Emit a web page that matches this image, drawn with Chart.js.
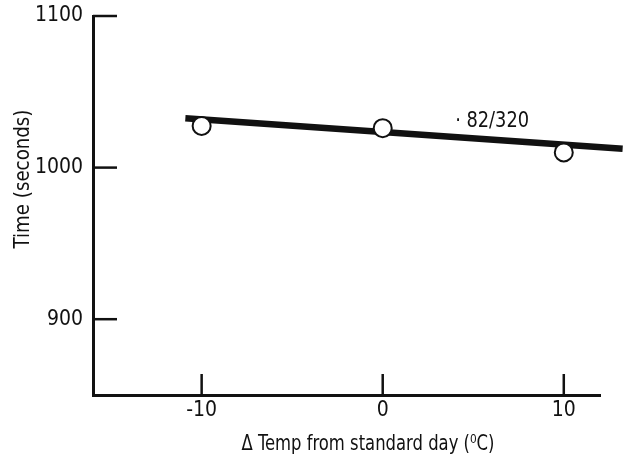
<!DOCTYPE html>
<html>
<head>
<meta charset="utf-8">
<script src="https://cdn.jsdelivr.net/npm/chart.js@4"></script>
<style>
  html, body { margin: 0; padding: 0; background: #fff; }
  canvas { display: block; }
</style>
</head>
<body>
<canvas id="chart" width="623" height="462"></canvas>
<script>
// Measured points
const temps = [-10, 0, 10];
const times = [1027.5, 1026, 1010];

// Fitted line ends (runs off the right edge of the figure)
const fitTemps = [-10.9, 13.25];
const fitTimes = [1032.5, 1012.5];

// Axis ticks
const xTicks = [-10, 0, 10];
const yTicks = [900, 1000, 1100];

// Curve label
const noteText = "\u00b7 82/320";
const noteAt = [4.0, 1030.5];

const FONT = "'DejaVu Sans Condensed', 'Liberation Sans', sans-serif";
const INK = "#111";

// draw text squeezed sideways, the original uses a condensed face
function narrowText(ctx, txt, x, y, sx, align) {
  ctx.save();
  ctx.translate(x, y);
  ctx.scale(sx, 1);
  ctx.textAlign = align;
  ctx.fillText(txt, 0, 0);
  ctx.restore();
}

// inward tick marks, axis titles and the curve label
const extras = {
  id: "extras",
  afterDraw(chart) {
    const { ctx, chartArea, scales } = chart;
    const x = scales.x, y = scales.y;
    ctx.save();
    ctx.strokeStyle = INK;
    ctx.lineWidth = 2.5;
    yTicks.forEach(v => {
      const py = y.getPixelForValue(v);
      ctx.beginPath();
      ctx.moveTo(chartArea.left, py);
      ctx.lineTo(chartArea.left + 24, py);
      ctx.stroke();
    });
    xTicks.forEach(v => {
      const px = x.getPixelForValue(v);
      ctx.beginPath();
      ctx.moveTo(px, chartArea.bottom);
      ctx.lineTo(px, chartArea.bottom - 21);
      ctx.stroke();
    });

    ctx.fillStyle = INK;
    ctx.font = "22px " + FONT;
    ctx.textBaseline = "middle";

    // curve label
    narrowText(ctx, noteText, x.getPixelForValue(noteAt[0]), y.getPixelForValue(noteAt[1]), 0.9, "left");

    // x title
    narrowText(ctx, "\u0394 Temp from standard day (\u2070C)", 368, 444, 0.83, "center");

    // y title
    ctx.translate(23, 179);
    ctx.rotate(-Math.PI / 2);
    narrowText(ctx, "Time (seconds)", 0, 0, 0.92, "center");
    ctx.restore();
  }
};

new Chart(document.getElementById("chart"), {
  type: "scatter",
  data: {
    datasets: [
      {
        // points on top
        data: temps.map((t, i) => ({ x: t, y: times[i] })),
        pointRadius: 9,
        pointBorderWidth: 2,
        pointBackgroundColor: "#fff",
        pointBorderColor: INK,
        showLine: false
      },
      {
        data: fitTemps.map((t, i) => ({ x: t, y: fitTimes[i] })),
        showLine: true,
        borderColor: INK,
        borderWidth: 6.5,
        pointRadius: 0,
        clip: false
      }
    ]
  },
  options: {
    responsive: false,
    animation: false,
    events: [],
    layout: { padding: { top: 16, right: 23, left: 0, bottom: 0 } },
    plugins: { legend: { display: false }, tooltip: { enabled: false } },
    scales: {
      x: {
        type: "linear",
        min: -16,
        max: 12,
        afterBuildTicks: s => { s.ticks = xTicks.map(v => ({ value: v })); },
        afterFit: s => { s.height = 67; },
        grid: { display: true, drawOnChartArea: false, drawTicks: false },
        border: { display: true, width: 3, color: INK },
        ticks: {
          padding: 3, color: INK, font: { family: FONT, size: 21 },
          callback: v => String(v)
        }
      },
      y: {
        type: "linear",
        min: 850,
        max: 1100,
        afterBuildTicks: s => { s.ticks = yTicks.map(v => ({ value: v })); },
        afterFit: s => { s.width = 93; },
        grid: { display: true, drawOnChartArea: false, drawTicks: false },
        border: { display: true, width: 3, color: INK },
        ticks: {
          padding: 10, color: INK, font: { family: FONT, size: 21, lineHeight: 0.5 },
          callback: v => String(v)
        }
      }
    }
  },
  plugins: [extras]
});
</script>
</body>
</html>
